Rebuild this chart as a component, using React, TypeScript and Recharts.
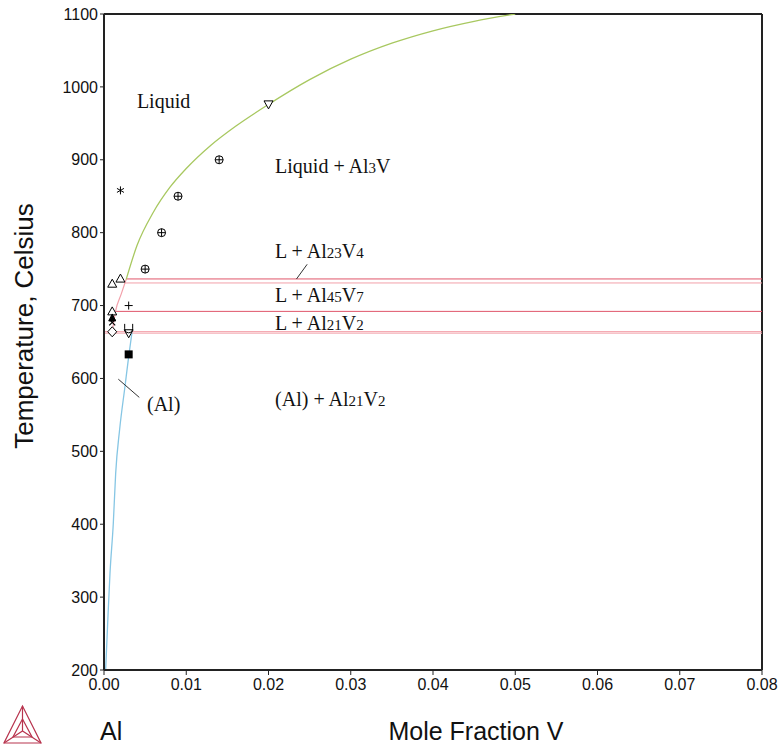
import React from 'react';
import { ComposedChart, Line, Scatter, XAxis, YAxis, ReferenceLine } from 'recharts';

const xTicks = [0, 0.01, 0.02, 0.03, 0.04, 0.05, 0.06, 0.07, 0.08];
const yTicks = [200, 300, 400, 500, 600, 700, 800, 900, 1000, 1100];

// phase boundaries as [mole fraction V, temperature °C]
const liquidus = [
  [0.0027, 736], [0.004, 782], [0.006, 828], [0.008, 862], [0.01, 888], [0.013, 920],
  [0.016, 946], [0.02, 976], [0.025, 1010], [0.03, 1038], [0.035, 1060], [0.04, 1077],
  [0.045, 1090], [0.05, 1100],
];
const liquidusLow = [[0.001, 663], [0.0014, 692], [0.0021, 716], [0.0027, 736]];
const solidus = [
  [0.0002, 200], [0.00045, 265], [0.00073, 333], [0.00113, 401], [0.00142, 470],
  [0.0019, 530], [0.00255, 589], [0.003, 630], [0.0034, 663],
];

// three-phase horizontals: [temperature, start x]
const invariants = [[736.5, 0.0027], [731, 0.0025], [692, 0.0014], [664, 0], [662, 0]];

// leader lines from labels to boundaries
const leaderAl23V4 = [[0.0234, 736.4], [0.0247, 756.6]];
const leaderAl = [[0.00174, 599], [0.00429, 574]];

// experimental points
const circlePlus = [[0.005, 750], [0.007, 800], [0.009, 850], [0.014, 900]];
const triDown = [[0.02, 976], [0.003, 662]];
const asterisk = [[0.002, 858]];
const triUp = [[0.001, 730], [0.002, 737], [0.001, 692]];
const plusPts = [[0.003, 700]];
const triFilled = [[0.001, 683]];
const crossPts = [[0.001, 677]];
const diamond = [[0.001, 664]];
const cup = [[0.003, 668]];
const square = [[0.003, 633]];

const regionLabels: [number, number, string][] = [
  [0.004, 971, 'Liquid'],
  [0.0208, 882, 'Liquid + Al3V'],
  [0.0208, 765, 'L + Al23V4'],
  [0.0208, 705, 'L + Al45V7'],
  [0.0208, 667, 'L + Al21V2'],
  [0.0208, 562, '(Al) + Al21V2'],
  [0.00523, 555, '(Al)'],
];

const pts = (a: number[][]) => a.map(([x, t]) => ({ x, t }));

const serif = '"Liberation Serif", "DejaVu Serif", serif';
const sans = '"Liberation Sans", Arial, sans-serif';

const Marker = (kind: string) => (p: any) => {
  const { cx, cy } = p;
  if (cx == null || cy == null) return <g />;
  const s = 'black';
  switch (kind) {
    case 'circlePlus':
      return (
        <g stroke={s} strokeWidth={1} fill="white">
          <circle cx={cx} cy={cy} r={4} />
          <path d={`M${cx - 4},${cy}H${cx + 4}M${cx},${cy - 4}V${cy + 4}`} />
        </g>
      );
    case 'triDown':
      return <path d={`M${cx - 4.5},${cy - 3.5}H${cx + 4.5}L${cx},${cy + 4.5}Z`} stroke={s} fill="white" />;
    case 'triUp':
      return <path d={`M${cx - 4.5},${cy + 3.5}H${cx + 4.5}L${cx},${cy - 4.5}Z`} stroke={s} fill="white" />;
    case 'triFilled':
      return <path d={`M${cx - 3.5},${cy + 3}H${cx + 3.5}L${cx},${cy - 4}Z`} stroke={s} fill={s} />;
    case 'asterisk':
      return (
        <path
          d={`M${cx},${cy - 4}V${cy + 4}M${cx - 3.5},${cy - 2}L${cx + 3.5},${cy + 2}M${cx - 3.5},${cy + 2}L${cx + 3.5},${cy - 2}`}
          stroke={s}
          strokeWidth={1}
        />
      );
    case 'plus':
      return <path d={`M${cx - 4},${cy}H${cx + 4}M${cx},${cy - 4}V${cy + 4}`} stroke={s} strokeWidth={1} />;
    case 'cross':
      return <path d={`M${cx - 3},${cy - 3}L${cx + 3},${cy + 3}M${cx - 3},${cy + 3}L${cx + 3},${cy - 3}`} stroke={s} strokeWidth={1.2} />;
    case 'diamond':
      return <path d={`M${cx},${cy - 5}L${cx + 4.5},${cy}L${cx},${cy + 5}L${cx - 4.5},${cy}Z`} stroke={s} fill="white" />;
    case 'cup':
      return <path d={`M${cx - 4},${cy - 5}V${cy}A4,4 0 0 0 ${cx + 4},${cy}V${cy - 5}`} stroke={s} fill="none" />;
    case 'square':
      return <rect x={cx - 4} y={cy - 4} width={8} height={8} fill={s} />;
    default:
      return <g />;
  }
};

const RegionLabel = (p: any) => {
  const { cx, cy, payload } = p;
  if (cx == null || cy == null) return <g />;
  const parts = String(payload.label).split(/(\d+)/).filter((s) => s.length > 0);
  return (
    <text x={cx} y={cy} fontFamily={serif} fontSize={20} fill="#111">
      {parts.map((s, i) => (
        <tspan key={i} fontSize={/^\d+$/.test(s) ? 15 : 20}>
          {s}
        </tspan>
      ))}
    </text>
  );
};

const markerSets: [string, number[][]][] = [
  ['circlePlus', circlePlus],
  ['triDown', triDown],
  ['asterisk', asterisk],
  ['triUp', triUp],
  ['plus', plusPts],
  ['triFilled', triFilled],
  ['cross', crossPts],
  ['diamond', diamond],
  ['cup', cup],
  ['square', square],
];

const invariantColors = ['#e0566a', '#f2a0aa', '#e0566a', '#f08a96', '#f4b0b8'];

const App: React.FC = () => {
  return (
    <div style={{ position: 'absolute', left: 0, top: 0, width: 779, height: 744, background: 'white' }}>
      <ComposedChart width={779} height={744} margin={{ top: 14, right: 17, left: 34, bottom: 44 }}>
        <XAxis
          type="number"
          dataKey="x"
          domain={[0, 0.08]}
          ticks={xTicks}
          tickFormatter={(v: number) => v.toFixed(2)}
          allowDataOverflow
          height={30}
          tickSize={5}
          tickMargin={4}
          tick={{ fontFamily: sans, fontSize: 16, fill: '#111' }}
          axisLine={{ stroke: '#222', strokeWidth: 2 }}
          tickLine={{ stroke: '#222' }}
        />
        <YAxis
          type="number"
          dataKey="t"
          domain={[200, 1100]}
          ticks={yTicks}
          allowDataOverflow
          width={70}
          tickSize={4}
          tickMargin={2}
          tick={{ fontFamily: sans, fontSize: 16, fill: '#111' }}
          axisLine={{ stroke: '#222', strokeWidth: 2 }}
          tickLine={{ stroke: '#222' }}
        />
        <ReferenceLine x={0.08} stroke="#222" strokeWidth={2} />
        <ReferenceLine y={1100} stroke="#222" strokeWidth={2} />

        {invariants.map(([t, x0], i) => (
          <Line
            key={'inv' + i}
            data={pts([[x0, t], [0.08, t]])}
            dataKey="t"
            type="linear"
            stroke={invariantColors[i]}
            strokeWidth={1}
            dot={false}
            isAnimationActive={false}
          />
        ))}
        <Line data={pts(liquidusLow)} dataKey="t" type="monotone" stroke="#f2a0aa" strokeWidth={1.2} dot={false} isAnimationActive={false} />
        <Line data={pts(liquidus)} dataKey="t" type="monotone" stroke="#a8c860" strokeWidth={1.3} dot={false} isAnimationActive={false} />
        <Line data={pts(solidus)} dataKey="t" type="monotone" stroke="#86c6e4" strokeWidth={1.3} dot={false} isAnimationActive={false} />
        <Line data={pts(leaderAl23V4)} dataKey="t" type="linear" stroke="#333" strokeWidth={1} dot={false} isAnimationActive={false} />
        <Line data={pts(leaderAl)} dataKey="t" type="linear" stroke="#333" strokeWidth={1} dot={false} isAnimationActive={false} />

        {markerSets.map(([kind, d]) => (
          <Scatter key={kind} data={pts(d)} shape={Marker(kind)} isAnimationActive={false} />
        ))}
        <Scatter
          data={regionLabels.map(([x, t, label]) => ({ x, t, label }))}
          shape={RegionLabel}
          isAnimationActive={false}
        />
      </ComposedChart>

      <svg width={779} height={744} style={{ position: 'absolute', left: 0, top: 0, pointerEvents: 'none' }}>
        <text
          x={33}
          y={326}
          transform="rotate(-90, 33, 326)"
          textAnchor="middle"
          fontFamily={sans}
          fontSize={26}
          fill="#111"
        >
          Temperature, Celsius
        </text>
        <text x={100} y={740} fontFamily={sans} fontSize={25} fill="#111">
          Al
        </text>
        <text x={476} y={740} textAnchor="middle" fontFamily={sans} fontSize={25} fill="#111">
          Mole Fraction V
        </text>
        <g stroke="#b8344e" strokeWidth={1.2} fill="none">
          <path d="M4,743L41,743L22.5,706Z" />
          <path d="M4,743L22.5,731L41,743M22.5,706L22.5,731" />
          <path d="M13,737L32,737L22.5,719Z" />
        </g>
      </svg>
    </div>
  );
};

export default App;
